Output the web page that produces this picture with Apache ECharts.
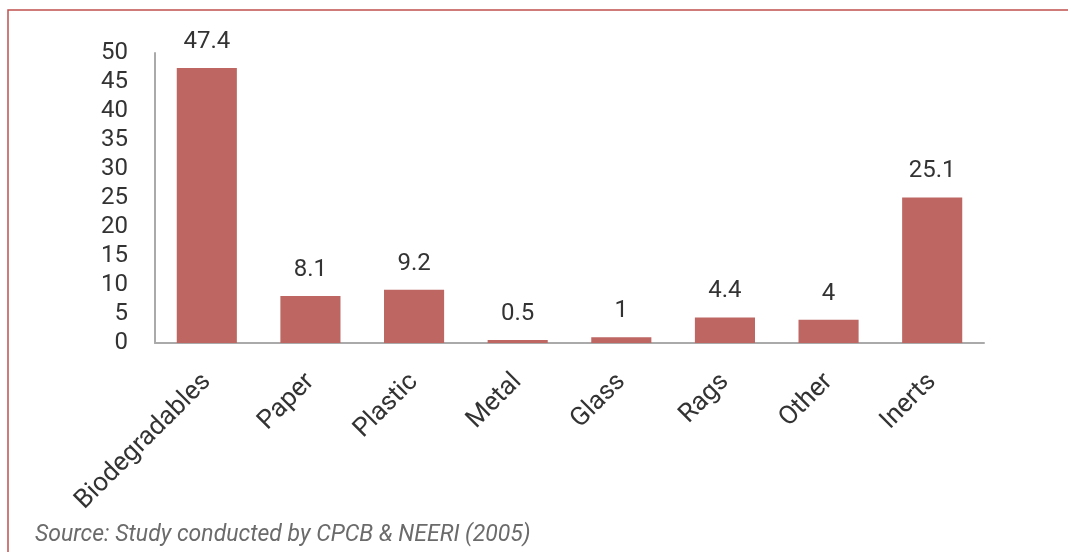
<!DOCTYPE html>
<html><head><meta charset="utf-8">
<script src="https://cdn.jsdelivr.net/npm/echarts@6/dist/echarts.min.js"></script>
<style>html,body{margin:0;padding:0;background:#fff}#c{width:1068px;height:552px}</style>
</head><body><div id="c"></div>
<script>
const categories = ['Biodegradables','Paper','Plastic','Metal','Glass','Rags','Other','Inerts'];
const values = [47.4, 8.1, 9.2, 0.5, 1, 4.4, 4, 25.1];
const sourceText = 'Source: Study conducted by CPCB & NEERI (2005)';

const chart = echarts.init(document.getElementById('c'), null, {renderer:'canvas'});
const font = 'Roboto, "DejaVu Sans", sans-serif';
chart.setOption({
  animation:false,
  backgroundColor:'#fff',
  grid:{left:155, right:84, top:53, bottom:209, containLabel:false},
  xAxis:{type:'category', data:categories,
    axisLine:{lineStyle:{color:'#aaaaaa', width:2}},
    axisTick:{show:false},
    axisLabel:{rotate:45, interval:0, color:'#333', fontSize:26, fontFamily:font, margin:35}
  },
  yAxis:{type:'value', min:0, max:50, interval:5,
    axisLine:{show:true, lineStyle:{color:'#aaaaaa', width:2}},
    axisTick:{show:false}, splitLine:{show:false},
    axisLabel:{color:'#333', fontSize:24, fontFamily:font, margin:27}
  },
  series:[{type:'bar', data:values, barWidth:'58%',
    itemStyle:{color:'#bd6662'},
    label:{show:true, position:'top', distance:14, color:'#333', fontSize:24, fontFamily:font}
  }],
  graphic:[
    {type:'polyline', shape:{points:[[8,560],[8,10],[1080,10]]}, style:{stroke:'#c0504d', lineWidth:1.5, fill:null}},
    {type:'text', left:35, top:524, style:{text:sourceText, fill:'#6b6b6b', font:'italic 23px '+font}}
  ]
});
</script></body></html>
